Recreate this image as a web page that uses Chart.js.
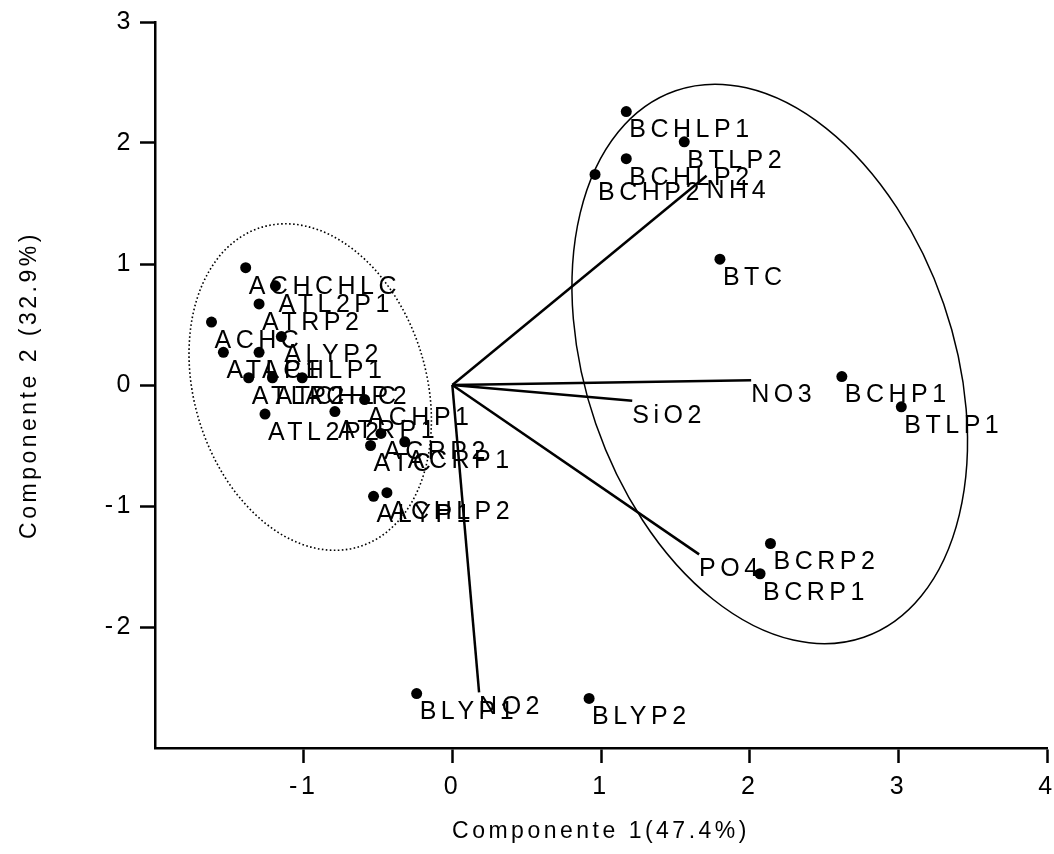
<!DOCTYPE html>
<html>
<head>
<meta charset="utf-8">
<script src="https://cdn.jsdelivr.net/npm/chart.js@4/dist/chart.umd.min.js"></script>
<style>
  html, body { margin: 0; padding: 0; background: #fff; }
</style>
</head>
<body>
<canvas id="pcaChart" width="1054" height="854"></canvas>
<script>
// Sample scores (component 1, component 2)
const sampleNames = ['ACHCHLC', 'ATL2P1', 'ATRP2', 'ACHC', 'ALYP2', 'ATLP1', 'ACHLP1', 'ATLP2', 'ATCHLC',
  'ACHP2', 'ACHP1', 'ATL2P2', 'ATRP1', 'ACRP2', 'ACRP1', 'ATC', 'ALYP1', 'ACHLP2',
  'BCHLP1', 'BTLP2', 'BCHLP2', 'BCHP2', 'BTC', 'BCHP1', 'BTLP1', 'BCRP2', 'BCRP1', 'BLYP1', 'BLYP2'];
const sampleX = [-1.39, -1.19, -1.30, -1.62, -1.15, -1.54, -1.30, -1.37, -1.21,
  -1.01, -0.59, -1.26, -0.79, -0.48, -0.32, -0.55, -0.53, -0.44,
  1.17, 1.56, 1.17, 0.96, 1.80, 2.62, 3.02, 2.14, 2.07, -0.24, 0.92];
const sampleY = [0.97, 0.82, 0.67, 0.52, 0.40, 0.27, 0.27, 0.06, 0.06,
  0.06, -0.12, -0.24, -0.22, -0.40, -0.47, -0.50, -0.92, -0.89,
  2.26, 2.01, 1.87, 1.74, 1.04, 0.07, -0.18, -1.31, -1.56, -2.55, -2.59];

// Variable loadings (vectors from origin)
const varNames = ['NH4', 'NO3', 'SiO2', 'PO4', 'NO2'];
const varX = [1.71, 2.01, 1.21, 1.66, 0.18];
const varY = [1.73, 0.04, -0.13, -1.40, -2.54];

// Group outlines (centres in data units)
const groupCenterX = [-0.956, 2.135];
const groupCenterY = [-0.017, 0.174];

// Axis ticks
const xTicks = [-1, 0, 1, 2, 3, 4];
const yTicks = [-2, -1, 0, 1, 2, 3];

const FONT = 'Arial, "Liberation Sans", Helvetica, sans-serif';

const samplePoints = sampleX.map((x, i) => ({ x: x, y: sampleY[i] }));

const vectorSets = varNames.map((name, i) => ({
  label: name,
  data: [{ x: 0, y: 0 }, { x: varX[i], y: varY[i] }],
  showLine: true,
  borderColor: '#000',
  borderWidth: 2.5,
  pointRadius: 0,
  fill: false
}));

// ellipses drawn behind the data
const ellipsePlugin = {
  id: 'groupEllipses',
  beforeDatasetsDraw(chart) {
    const { ctx, scales: { x, y } } = chart;
    const shapes = [
      { rx: 116, ry: 167, rot: -17, dash: [1.6, 2.4], width: 1.6 },
      { rx: 184, ry: 289, rot: -19, dash: [], width: 1.5 }
    ];
    ctx.save();
    ctx.strokeStyle = '#000';
    shapes.forEach((s, i) => {
      ctx.beginPath();
      ctx.setLineDash(s.dash);
      ctx.lineWidth = s.width;
      ctx.ellipse(x.getPixelForValue(groupCenterX[i]), y.getPixelForValue(groupCenterY[i]),
        s.rx, s.ry, s.rot * Math.PI / 180, 0, Math.PI * 2);
      ctx.stroke();
    });
    ctx.restore();
  }
};

// text labels next to points and vector tips
const labelPlugin = {
  id: 'pointLabels',
  beforeDraw(chart) {
    chart.ctx.letterSpacing = '3.5px';
  },
  afterDatasetsDraw(chart) {
    const { ctx, scales: { x, y } } = chart;
    ctx.save();
    ctx.fillStyle = '#000';
    ctx.font = '25px ' + FONT;
    ctx.letterSpacing = '4.5px';
    ctx.textAlign = 'left';
    ctx.textBaseline = 'middle';
    sampleNames.forEach((name, i) => {
      ctx.fillText(name, x.getPixelForValue(sampleX[i]) + 3, y.getPixelForValue(sampleY[i]) + 19);
    });
    varNames.forEach((name, i) => {
      ctx.fillText(name, x.getPixelForValue(varX[i]), y.getPixelForValue(varY[i]) + 15);
    });
    ctx.restore();
  }
};

const axisCommon = {
  grid: { drawOnChartArea: false, drawTicks: true, tickLength: 15, tickColor: '#000', tickWidth: 2.5 },
  border: { display: true, color: '#000', width: 2.5 }
};

new Chart(document.getElementById('pcaChart'), {
  type: 'scatter',
  data: {
    datasets: [
      ...vectorSets,
      {
        label: 'samples',
        data: samplePoints,
        backgroundColor: '#000',
        borderWidth: 0,
        pointRadius: 5.5
      }
    ]
  },
  options: {
    responsive: false,
    animation: false,
    devicePixelRatio: 1,
    events: [],
    layout: { autoPadding: false, padding: { left: 0, top: 22, right: 7, bottom: 0 } },
    plugins: { legend: { display: false }, tooltip: { enabled: false } },
    scales: {
      x: {
        ...axisCommon,
        type: 'linear',
        min: -2,
        max: 4,
        afterBuildTicks: s => { s.ticks = xTicks.map(v => ({ value: v })); },
        afterFit: s => { s.height = 106; s.paddingLeft = 0; s.paddingRight = 0; },
        ticks: { color: '#000', font: { family: FONT, size: 25 }, padding: 9 },
        title: { display: true, text: 'Componente 1(47.4%)', color: '#000',
          font: { family: FONT, size: 23 }, padding: { top: 0, bottom: 9 } }
      },
      y: {
        ...axisCommon,
        type: 'linear',
        min: -3,
        max: 3,
        afterBuildTicks: s => { s.ticks = yTicks.map(v => ({ value: v })); },
        afterFit: s => { s.width = 155; s.paddingTop = 0; s.paddingBottom = 0; },
        ticks: { color: '#000', font: { family: FONT, size: 25 }, padding: 6 },
        title: { display: true, text: 'Componente 2 (32.9%)', color: '#000',
          font: { family: FONT, size: 23 }, padding: { top: 16, bottom: 0 } }
      }
    }
  },
  plugins: [ellipsePlugin, labelPlugin]
});
</script>
</body>
</html>
